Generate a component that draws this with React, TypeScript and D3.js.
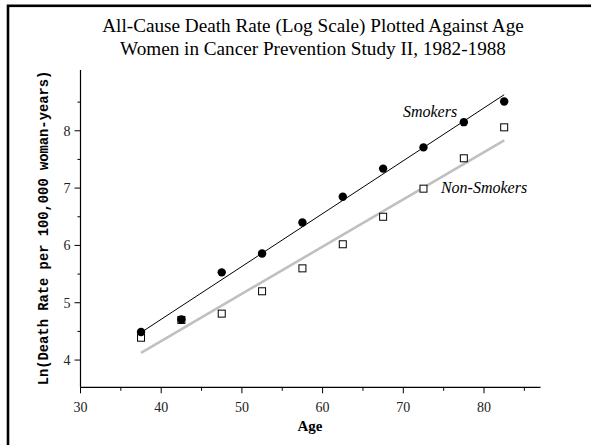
import React from "react";
import * as d3 from "d3";

const ages = [37.5, 42.5, 47.5, 52.5, 57.5, 62.5, 67.5, 72.5, 77.5, 82.5];
const smokers = [4.49, 4.71, 5.53, 5.86, 6.4, 6.85, 7.34, 7.71, 8.15, 8.51];
const nonSmokers = [4.39, 4.7, 4.81, 5.2, 5.6, 6.02, 6.5, 6.99, 7.52, 8.06];
const xMajor = [30, 40, 50, 60, 70, 80];
const xMinor = [35, 45, 55, 65, 75, 85];
const yMajor = [4, 5, 6, 7, 8];
const yMinor = [4.5, 5.5, 6.5, 7.5, 8.5];
const titleLines = [
  "All-Cause Death Rate (Log Scale) Plotted Against Age",
  "Women in Cancer Prevention Study II, 1982-1988",
];

function fit(xs: number[], ys: number[]) {
  const mx = d3.mean(xs)!;
  const my = d3.mean(ys)!;
  let sxy = 0, sxx = 0;
  xs.forEach((x, i) => {
    sxy += (x - mx) * (ys[i] - my);
    sxx += (x - mx) * (x - mx);
  });
  const b = sxy / sxx;
  return (x: number) => my + b * (x - mx);
}

export default function App() {
  const W = 591, H = 445;
  const x = d3.scaleLinear().domain([30, 87]).range([80.5, 540.5]);
  const y = d3.scaleLinear().domain([3.525, 9.06]).range([387.3, 70]);
  const serif = "'Liberation Serif', 'Times New Roman', serif";
  const fS = fit(ages, smokers);
  const fN = fit(ages, nonSmokers);
  const x0 = d3.min(ages)!, x1 = d3.max(ages)!;
  const line = d3.line<[number, number]>().x(d => x(d[0])).y(d => y(d[1]));
  return (
    <div style={{ position: "fixed", left: 0, top: 0 }}>
      <svg width={W} height={H} style={{ display: "block", background: "#fff" }}>
        <rect x={8} y={5.8} width={700} height={600} fill="none" stroke="#000" strokeWidth={2.6} />
        {titleLines.map((t, i) => (
          <text key={i} x={313} y={32 + i * 23} textAnchor="middle" fontFamily={serif} fontSize={19.2} fill="#000">{t}</text>
        ))}
        {/* axes */}
        <line x1={x(30)} x2={x(30)} y1={y(9.06)} y2={y(3.525)} stroke="#000" strokeWidth={1.2} />
        <line x1={x(30)} x2={x(87)} y1={y(3.525)} y2={y(3.525)} stroke="#000" strokeWidth={1.2} />
        {xMajor.map(v => (
          <g key={"xm" + v}>
            <line x1={x(v)} x2={x(v)} y1={y(3.525)} y2={y(3.525) + 6} stroke="#000" />
            <text x={x(v)} y={412} textAnchor="middle" fontFamily={serif} fontSize={14} fill="#222">{v}</text>
          </g>
        ))}
        {xMinor.map(v => (
          <line key={"xn" + v} x1={x(v)} x2={x(v)} y1={y(3.525)} y2={y(3.525) + 3.5} stroke="#000" />
        ))}
        {yMajor.map(v => (
          <g key={"ym" + v}>
            <line x1={x(30) - 6} x2={x(30)} y1={y(v)} y2={y(v)} stroke="#000" />
            <text x={x(30) - 10} y={y(v) + 5} textAnchor="end" fontFamily={serif} fontSize={14} fill="#222">{v}</text>
          </g>
        ))}
        {yMinor.map(v => (
          <line key={"yn" + v} x1={x(30) - 3} x2={x(30)} y1={y(v)} y2={y(v)} stroke="#000" />
        ))}
        <text x={310} y={431} textAnchor="middle" fontFamily={serif} fontWeight="bold" fontSize={15} fill="#000">Age</text>
        <text transform={`translate(48,228) rotate(-90)`} textAnchor="middle" fontFamily="'Courier New', 'Liberation Mono', monospace" fontWeight="bold" fontSize={13.8} fill="#000">Ln(Death Rate per 100,000 woman-years)</text>
        {/* fit lines */}
        <path d={line([[x0, fN(x0)], [x1, fN(x1)]])!} stroke="#c0c0c0" strokeWidth={2.6} fill="none" />
        <path d={line([[x0, fS(x0)], [x1, fS(x1)]])!} stroke="#000" strokeWidth={1} fill="none" />
        {ages.map((a, i) => (
          <rect key={"n" + i} x={x(a) - 3.5} y={y(nonSmokers[i]) - 3.5} width={7} height={7} fill="#fff" stroke="#000" strokeWidth={1} />
        ))}
        {ages.map((a, i) => (
          <circle key={"s" + i} cx={x(a)} cy={y(smokers[i])} r={4.2} fill="#000" />
        ))}
        <text x={430} y={116.5} textAnchor="middle" fontFamily={serif} fontStyle="italic" fontSize={16} fill="#000">Smokers</text>
        <text x={484} y={192.5} textAnchor="middle" fontFamily={serif} fontStyle="italic" fontSize={16} fill="#000">Non-Smokers</text>
      </svg>
    </div>
  );
}
